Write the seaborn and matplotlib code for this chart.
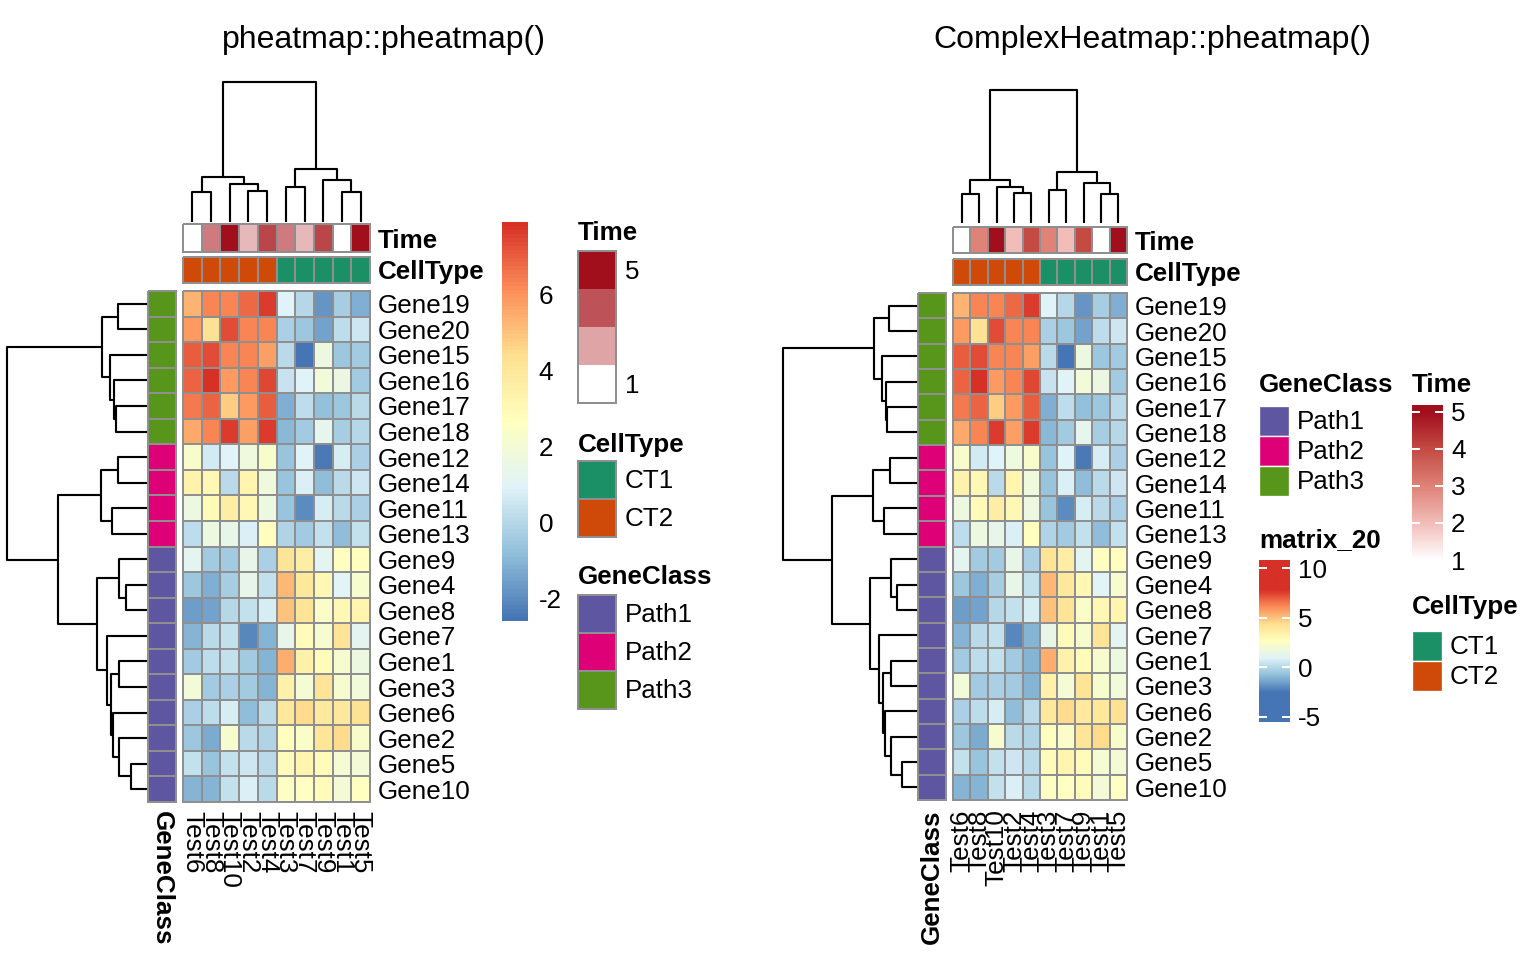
import numpy as np
import pandas as pd
import matplotlib
matplotlib.use("Agg")
import matplotlib.pyplot as plt
from matplotlib.colors import LinearSegmentedColormap, ListedColormap
from matplotlib.patches import Rectangle
import seaborn as sns

sns.set_style("white")
plt.rcParams['font.family'] = ['Liberation Sans', 'DejaVu Sans']
plt.rcParams['text.color'] = 'black'
plt.rcParams['xtick.color'] = 'black'
plt.rcParams['ytick.color'] = 'black'
plt.rcParams['axes.unicode_minus'] = False

# ---- data (display order) ----
genes = ["Gene19", "Gene20", "Gene15", "Gene16", "Gene17", "Gene18", "Gene12",
         "Gene14", "Gene11", "Gene13", "Gene9", "Gene4", "Gene8", "Gene7",
         "Gene1", "Gene3", "Gene6", "Gene2", "Gene5", "Gene10"]
tests = ["Test6", "Test8", "Test10", "Test2", "Test4",
         "Test3", "Test7", "Test9", "Test1", "Test5"]
values = [
    [5.3, 6.3, 6.3, 6.8, 7.6, 0.9, 0.0, -1.8, -0.3, -1.2],
    [5.9, 4.3, 7.3, 6.3, 6.3, -0.2, -0.6, -1.5, 0.2, 0.5],
    [7.0, 7.3, 6.3, 6.3, 5.7, 0.1, -2.5, 1.6, -0.6, -0.4],
    [6.9, 7.8, 5.9, 6.3, 7.4, 0.4, 0.9, 1.9, 1.5, -0.4],
    [6.5, 6.9, 4.8, 5.8, 7.0, -1.2, 0.2, -0.8, -0.6, 0.1],
    [5.5, 6.3, 7.6, 5.7, 7.6, -1.0, -0.4, 1.2, -0.3, 0.0],
    [2.3, 0.6, 0.9, 1.8, 2.3, -0.7, 0.9, -2.4, 0.7, -0.2],
    [3.3, 3.0, 0.1, 3.2, 1.8, -0.7, 0.8, -0.9, 0.1, 0.5],
    [1.6, 2.9, 3.6, 3.0, 1.7, -0.7, -2.0, 0.7, 0.1, -0.2],
    [0.2, 1.6, 1.3, 0.8, 2.7, -0.1, -0.4, 0.3, -0.9, 0.3],
    [1.1, -0.5, -0.5, 1.3, -0.2, 4.2, 3.6, 1.1, 2.7, 2.7],
    [-0.6, -1.2, -0.3, 1.3, 0.3, 5.2, 4.0, 3.0, 1.0, 2.2],
    [-1.6, -1.5, 0.0, 0.3, 0.7, 5.0, 4.2, 2.4, 3.0, 3.2],
    [-1.1, 0.1, 0.3, -2.1, -1.1, 1.3, 2.8, 2.2, 4.2, 1.1],
    [-0.5, 0.2, 0.3, -0.5, -1.1, 5.4, 3.4, 2.8, 2.2, 1.6],
    [1.9, -0.5, -0.2, -0.5, -1.1, 3.4, 2.1, 4.2, 2.2, 1.9],
    [-0.2, 0.2, 0.7, -0.9, 0.1, 4.0, 4.5, 3.9, 4.0, 4.3],
    [-0.6, -1.3, 2.2, 0.1, -0.1, 2.7, 2.4, 4.1, 4.5, 2.3],
    [0.3, -0.7, 0.3, 0.5, 0.1, 2.8, 3.2, 2.8, 2.1, 2.0],
    [-1.1, -1.1, 0.3, 0.8, 0.1, 2.5, 2.6, 2.8, 2.0, 2.6],
]
time = [1, 3, 5, 2, 4, 3, 2, 4, 1, 5]
cell_type = ["CT2", "CT2", "CT2", "CT2", "CT2", "CT1", "CT1", "CT1", "CT1", "CT1"]
gene_class = ["Path3"] * 6 + ["Path2"] * 4 + ["Path1"] * 10

# dendrograms: (height, left, right), leaves are display positions
col_tree = (139, (45, (30, 0, 1), (38, 2, (31, 3, 4))),
                 (53, (35, 5, 6), (42, 7, (30, 8, 9))))
row_tree = (141.3,
            (46.3, (30, 0, 1), (38, 2, (33.7, 3, (32, 4, 5)))),
            (90.3,
             (47, (29.7, 6, 7), (35.7, 8, 9)),
             (50.7, (28.7, 10, (22, 11, 12)),
              (41.3, 13, (37, (28.7, 14, 15),
                          (34.7, 16, (28.7, 17, (17, 18, 19))))))))

# ---- colours ----
hm_cmap = LinearSegmentedColormap.from_list(
    "hm", ["#4575B4", "#91BFDB", "#E0F3F8", "#FFFFBF", "#FEE090", "#FC8D59", "#D73027"], N=100)
vmin, vmax = -2.6, 7.9
ct_colors = {"CT1": "#1B8F66", "CT2": "#CF4A09"}
gc_colors = {"Path1": "#5F56A2", "Path2": "#DE0077", "Path3": "#57961A"}
time_left = ["#FFFFFF", "#E6B8BA", "#CF7A7F", "#BA464A", "#A10F1D"]
time_right = ["#FFFFFF", "#F2BCB8", "#DF8277", "#C44B44", "#A10F1D"]
grey = "#8F8F8F"
FS = 19.5

W, H = 1536, 960
fig = plt.figure(figsize=(16, 10), dpi=96)


def ax_px(x0, y0, x1, y1):
    return fig.add_axes([x0 / W, 1 - y1 / H, (x1 - x0) / W, (y1 - y0) / H])


def draw_tree(ax, node, orient):
    if isinstance(node, int):
        return node + 0.5, 0.0
    h, a, b = node
    pa, ha = draw_tree(ax, a, orient)
    pb, hb = draw_tree(ax, b, orient)
    xs, ys = [pa, pa, pb, pb], [ha, h, h, hb]
    if orient == "top":
        ax.plot(xs, ys, color="black", lw=1.6, clip_on=False, solid_capstyle="butt")
    else:
        ax.plot(ys, xs, color="black", lw=1.6, clip_on=False, solid_capstyle="butt")
    return (pa + pb) / 2, h


df = pd.DataFrame(values, index=genes, columns=tests)
time_codes = np.array([time])
ct_codes = np.array([[0 if c == "CT1" else 1 for c in cell_type]])
gc_codes = np.array([[["Path1", "Path2", "Path3"].index(g)] for g in gene_class])


def draw_panel(p, time_cols, label_rot):
    # row dendrogram
    ax = ax_px(*p["rdend"])
    draw_tree(ax, row_tree, "left")
    ax.set_xlim(row_tree[0], 0)
    ax.set_ylim(20, 0)
    ax.axis("off")
    # column dendrogram
    ax = ax_px(*p["cdend"])
    draw_tree(ax, col_tree, "top")
    ax.set_xlim(0, 10)
    ax.set_ylim(0, col_tree[0])
    ax.axis("off")

    # main heatmap
    ax = ax_px(*p["hm"])
    sns.heatmap(df, ax=ax, cmap=hm_cmap, vmin=vmin, vmax=vmax, cbar=False,
                linewidths=1.5, linecolor=grey, xticklabels=tests, yticklabels=genes)
    ax.collections[0].set_clip_on(False)
    ax.yaxis.tick_right()
    ax.tick_params(axis="y", length=0, pad=6, labelsize=FS, labelrotation=0)
    ax.tick_params(axis="x", length=0, pad=7, labelsize=FS)
    ax.set_xticklabels(tests, rotation=label_rot, va="top", ha="center")
    ax.set_xlabel("")
    ax.set_ylabel("")
    mesh = ax.collections[0]

    # column annotations
    for key, codes, cmap, lo, hi, name in [
        ("time", time_codes, ListedColormap(time_cols), 0.5, 5.5, "Time"),
        ("ct", ct_codes, ListedColormap([ct_colors["CT1"], ct_colors["CT2"]]), -0.5, 1.5, "CellType"),
    ]:
        ax = ax_px(*p[key])
        sns.heatmap(codes, ax=ax, cmap=cmap, vmin=lo, vmax=hi, cbar=False,
                    linewidths=1.5, linecolor=grey, xticklabels=False, yticklabels=[name])
        ax.collections[0].set_clip_on(False)
        ax.yaxis.tick_right()
        ax.tick_params(axis="y", length=0, pad=6, labelsize=FS, labelrotation=0)
        for t in ax.get_yticklabels():
            t.set_fontweight("bold")

    # row annotation
    ax = ax_px(*p["gc"])
    sns.heatmap(gc_codes, ax=ax, cmap=ListedColormap([gc_colors[k] for k in ["Path1", "Path2", "Path3"]]),
                vmin=-0.5, vmax=2.5, cbar=False, linewidths=1.5, linecolor=grey,
                xticklabels=["GeneClass"], yticklabels=False)
    ax.collections[0].set_clip_on(False)
    ax.tick_params(axis="x", length=0, pad=7, labelsize=FS)
    ax.set_xticklabels(["GeneClass"], rotation=label_rot, va="top", ha="center", fontweight="bold")
    return mesh


left = dict(rdend=(7, 291, 148, 802), gc=(148, 291, 176, 802), hm=(183, 291, 370, 802),
            time=(183, 224, 370, 252), ct=(183, 257, 370, 283), cdend=(183, 82, 370, 222))
right = dict(rdend=(783, 293, 918, 800), gc=(918, 293, 946, 800), hm=(953, 293, 1127, 800),
             time=(953, 227, 1127, 253), ct=(953, 259, 1127, 285), cdend=(953, 90, 1127, 223))

mesh = draw_panel(left, time_left, -90)
draw_panel(right, time_right, 90)

# ---- left colour bar ----
cax = ax_px(502, 222, 528, 621)
cb = fig.colorbar(mesh, cax=cax, ticks=[-2, 0, 2, 4, 6])
cb.outline.set_visible(False)
cax.tick_params(length=0, pad=8, labelsize=FS)

# ---- right colour bars ----
cax = ax_px(1259, 560, 1290, 722)
grad = np.linspace(10.84, -5.54, 300).reshape(-1, 1)
cax.imshow(grad, cmap=hm_cmap, vmin=vmin, vmax=vmax, aspect="auto", extent=[0, 1, -5.54, 10.84])
cax.set_xticks([])
cax.set_yticks([-5, 0, 5, 10])
cax.yaxis.tick_right()
cax.tick_params(axis="y", direction="in", color="white", length=6, width=1.5,
                left=True, right=True, labelsize=FS, pad=6)
for s in cax.spines.values():
    s.set_visible(False)

cax = ax_px(1412, 405, 1443, 566)
tcmap = LinearSegmentedColormap.from_list("time", time_right)
grad = np.linspace(5.18, 0.84, 300).reshape(-1, 1)
cax.imshow(grad, cmap=tcmap, vmin=1, vmax=5, aspect="auto", extent=[0, 1, 0.84, 5.18])
cax.set_xticks([])
cax.set_yticks([1, 2, 3, 4, 5])
cax.yaxis.tick_right()
cax.tick_params(axis="y", direction="in", color="white", length=6, width=1.5,
                left=True, right=True, labelsize=FS, pad=6)
for s in cax.spines.values():
    s.set_visible(False)

# ---- overlay for titles and discrete legends ----
ov = fig.add_axes([0, 0, 1, 1])
ov.set_xlim(0, W)
ov.set_ylim(H, 0)
ov.axis("off")

ov.text(384, 40, "pheatmap::pheatmap()", fontsize=24, ha="center", va="center")
ov.text(1152, 40, "ComplexHeatmap::pheatmap()", fontsize=24, ha="center", va="center")

# left legends (pheatmap style)
ov.text(578, 233, "Time", fontsize=FS, fontweight="bold", va="center")
box_cols = [time_left[4], "#BD5358", "#DEA4A6", "#FFFFFF"]
for i, c in enumerate(box_cols):
    ov.add_patch(Rectangle((578, 251 + 38 * i), 38, 38, facecolor=c, edgecolor="none"))
ov.add_patch(Rectangle((578, 251), 38, 152, facecolor="none", edgecolor=grey, lw=1.5))
ov.text(625, 272, "5", fontsize=FS, va="center")
ov.text(625, 386, "1", fontsize=FS, va="center")

ov.text(578, 445, "CellType", fontsize=FS, fontweight="bold", va="center")
for i, k in enumerate(["CT1", "CT2"]):
    ov.add_patch(Rectangle((578, 461 + 38 * i), 38, 38, facecolor=ct_colors[k], edgecolor=grey, lw=1.5))
    ov.text(625, 481 + 38 * i, k, fontsize=FS, va="center")

ov.text(578, 577, "GeneClass", fontsize=FS, fontweight="bold", va="center")
for i, k in enumerate(["Path1", "Path2", "Path3"]):
    ov.add_patch(Rectangle((578, 595 + 38 * i), 38, 38, facecolor=gc_colors[k], edgecolor=grey, lw=1.5))
    ov.text(625, 615 + 38 * i, k, fontsize=FS, va="center")

# right legends (ComplexHeatmap style)
ov.text(1259, 385, "GeneClass", fontsize=FS, fontweight="bold", va="center")
for i, k in enumerate(["Path1", "Path2", "Path3"]):
    ov.add_patch(Rectangle((1259, 406 + 30 * i), 30, 30, facecolor=gc_colors[k], edgecolor="white", lw=1))
    ov.text(1297, 422 + 30 * i, k, fontsize=FS, va="center")
ov.text(1259, 540, "matrix_20", fontsize=FS, fontweight="bold", va="center")
ov.text(1412, 385, "Time", fontsize=FS, fontweight="bold", va="center")
ov.text(1412, 607, "CellType", fontsize=FS, fontweight="bold", va="center")
for i, k in enumerate(["CT1", "CT2"]):
    ov.add_patch(Rectangle((1412, 631 + 30 * i), 30, 30, facecolor=ct_colors[k], edgecolor="white", lw=1))
    ov.text(1450, 647 + 30 * i, k, fontsize=FS, va="center")

fig.savefig("out.png", dpi=96)
